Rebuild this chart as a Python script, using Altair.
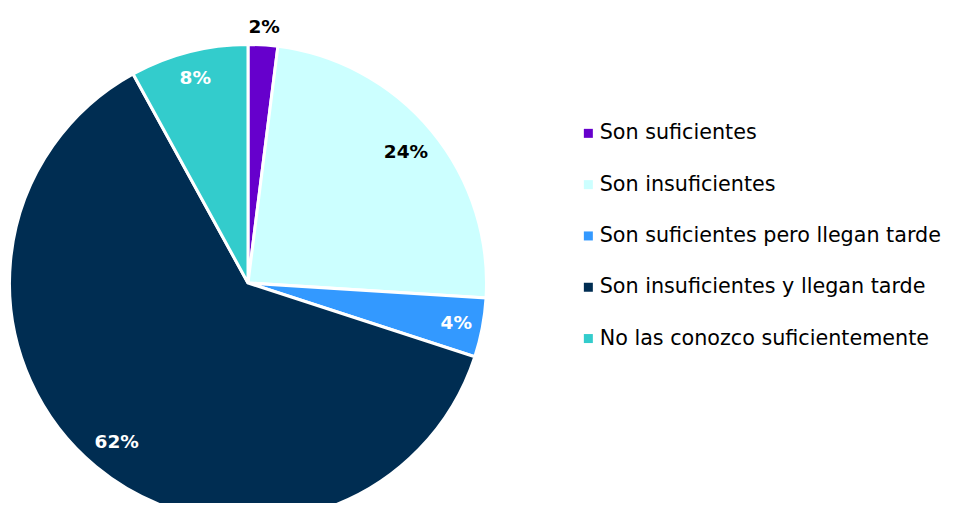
import altair as alt
import pandas as pd

categories = [
    "Son suficientes",
    "Son insuficientes",
    "Son suficientes pero llegan tarde",
    "Son insuficientes y llegan tarde",
    "No las conozco suficientemente",
]
values = [2, 24, 4, 62, 8]
colors = ["#6600CC", "#CCFFFF", "#3399FF", "#002D52", "#33CCCC"]
label_colors = ["black", "black", "white", "white", "white"]
label_radius = [257, 205, 212, 206, 212]

df = pd.DataFrame({
    "cat": categories,
    "val": values,
    "idx": list(range(len(categories))),
    "label": [f"{v}%" for v in values],
    "lc": label_colors,
    "lr": label_radius,
})

FONT = "DejaVu Sans"
cx, cy, R = 240, 275, 238.5
theta_scale = alt.Scale(domain=[0, sum(values)], range=[0, 6.283185307179586])

pie = alt.Chart(df).mark_arc(stroke="white", strokeWidth=3).encode(
    theta=alt.Theta("val:Q", stack=True, scale=theta_scale),
    order=alt.Order("idx:Q"),
    x=alt.value(cx),
    y=alt.value(cy),
    radius=alt.value(R),
    color=alt.Color(
        "cat:N",
        scale=alt.Scale(domain=categories, range=colors),
        sort=categories,
        legend=alt.Legend(
            title=None,
            orient="none",
            legendX=570,
            legendY=115,
            symbolType="square",
            symbolSize=81,
            symbolStrokeWidth=0,
            labelFontSize=20.7,
            labelFont=FONT,
            labelColor="black",
            rowPadding=29.3,
            labelOffset=1,
            labelLimit=400,
        ),
    ),
)

text = (
    alt.Chart(df)
    .transform_window(cum="sum(val)", sort=[alt.SortField("idx")])
    .transform_calculate(mid="datum.cum - datum.val / 2")
    .mark_text(font=FONT, fontSize=18.5, fontWeight="bold")
    .encode(
        theta=alt.Theta("mid:Q", scale=theta_scale),
        x=alt.value(cx),
        y=alt.value(cy),
        radius=alt.Radius("lr:Q", scale=None),
        text="label:N",
        color=alt.Color("lc:N", scale=None),
    )
)

chart = (
    alt.layer(pie, text)
    .properties(
        width=939,
        height=495,
        padding=0,
        autosize=alt.AutoSizeParams(type="none"),
    )
    .configure_view(stroke=None)
)

chart.save("out.html", embed_options={"renderer": "svg", "actions": False})
